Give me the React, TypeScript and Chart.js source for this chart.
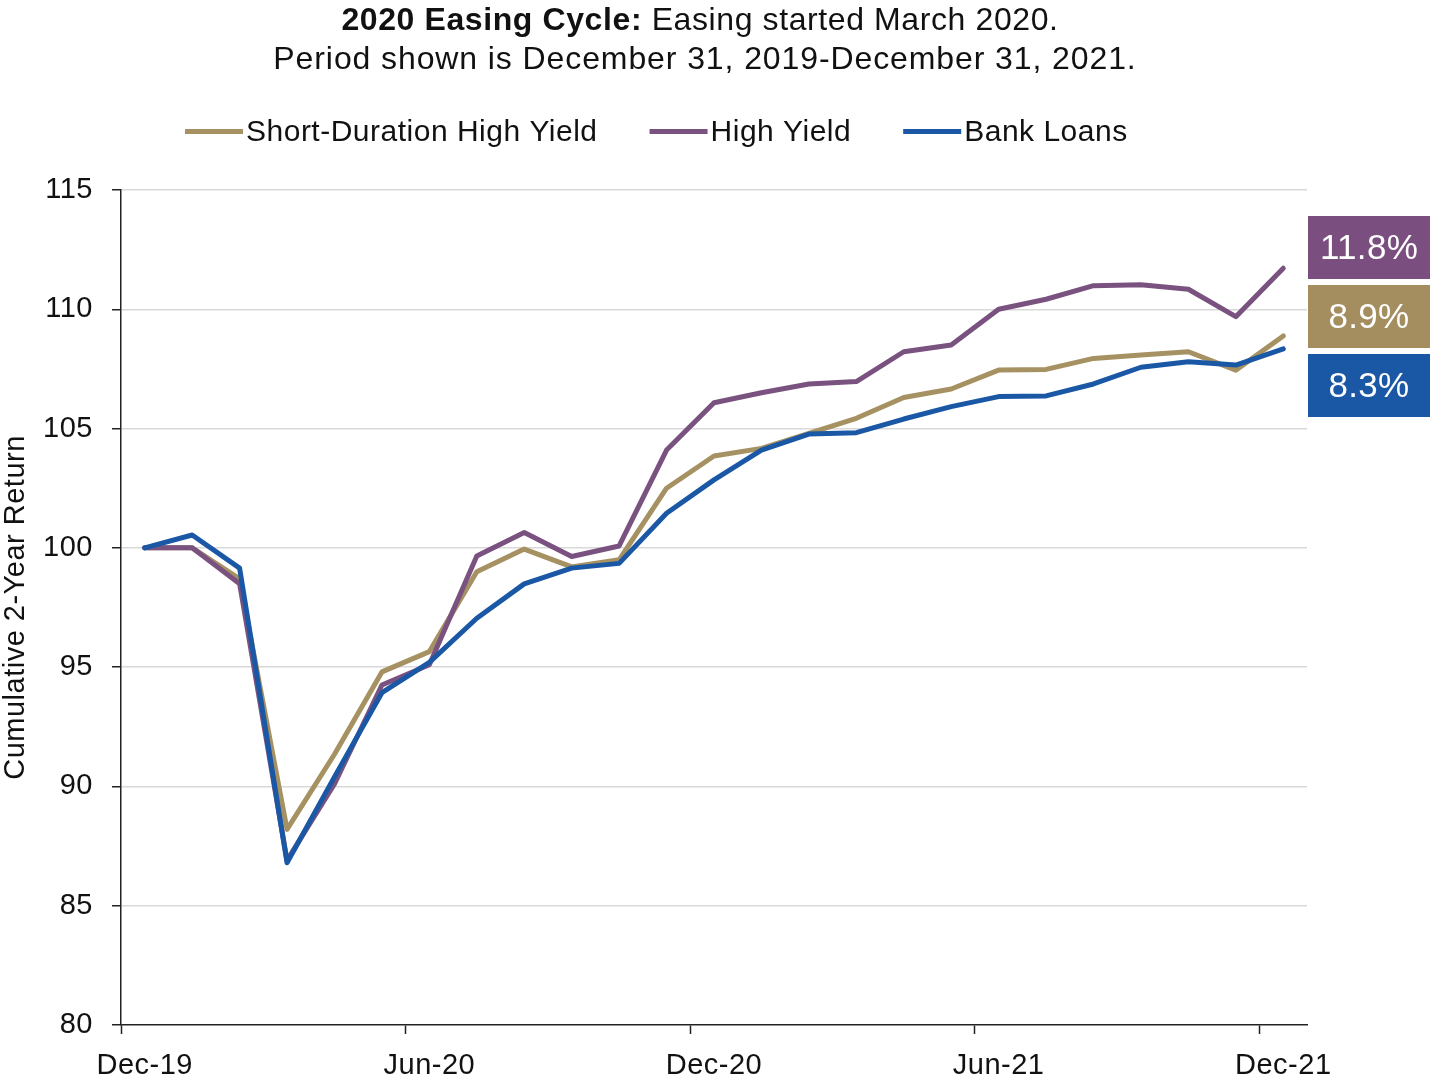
import React, { useEffect, useRef } from 'react';
import { Chart, registerables } from 'chart.js';

Chart.register(...registerables);

const categories = [
  'Dec-19', 'Jan-20', 'Feb-20', 'Mar-20', 'Apr-20', 'May-20', 'Jun-20', 'Jul-20', 'Aug-20',
  'Sep-20', 'Oct-20', 'Nov-20', 'Dec-20', 'Jan-21', 'Feb-21', 'Mar-21', 'Apr-21', 'May-21',
  'Jun-21', 'Jul-21', 'Aug-21', 'Sep-21', 'Oct-21', 'Nov-21', 'Dec-21',
];

const shortDurationHighYield = [
  100, 100, 98.7, 88.2, 91.35, 94.8, 95.65, 99.0, 99.95, 99.2, 99.5, 102.5, 103.85,
  104.17, 104.8, 105.43, 106.3, 106.66, 107.45, 107.48, 107.94, 108.08, 108.22, 107.45, 108.88,
];

const highYield = [
  100, 100, 98.5, 86.9, 90.1, 94.25, 95.1, 99.66, 100.64, 99.64, 100.08, 104.1, 106.08,
  106.5, 106.87, 106.97, 108.22, 108.5, 110.0, 110.42, 110.99, 111.03, 110.84, 109.69, 111.72,
];

const bankLoans = [
  100, 100.54, 99.15, 86.8, 90.4, 93.93, 95.2, 97.05, 98.49, 99.15, 99.35, 101.45, 102.85,
  104.1, 104.77, 104.83, 105.4, 105.92, 106.34, 106.37, 106.87, 107.57, 107.8, 107.66, 108.34,
];

const seriesNames = ['Short-Duration High Yield', 'High Yield', 'Bank Loans'];
const seriesColors = ['#A69162', '#7A5280', '#1A58A6'];

// end-of-period return boxes (top to bottom)
const endLabels = ['11.8%', '8.9%', '8.3%'];
const endLabelColors = ['#7A4F7F', '#A48E5F', '#1A57A4'];

const titleBold = '2020 Easing Cycle:';
const titleRest = ' Easing started March 2020.';
const titleLine2 = 'Period shown is December 31, 2019-December 31, 2021.';
const yAxisTitle = 'Cumulative 2-Year Return';

const yMin = 80;
const yMax = 115;
const yStep = 5;

const FONT = '"Liberation Sans", Arial, Helvetica, sans-serif';

function textWidth(ctx: CanvasRenderingContext2D, s: string, ls: number) {
  const c: any = ctx;
  const prev = c.letterSpacing;
  c.letterSpacing = '0px';
  const w = ctx.measureText(s).width;
  c.letterSpacing = prev;
  return w + ls * s.length;
}

const decorPlugin = {
  id: 'decor',
  beforeDraw(chart: any) {
    const ctx = chart.ctx;
    ctx.save();
    ctx.fillStyle = '#ffffff';
    ctx.fillRect(0, 0, chart.width, chart.height);
    ctx.restore();
    (ctx as any).letterSpacing = '0.5px';
  },
  afterDraw(chart: any) {
    const ctx: CanvasRenderingContext2D = chart.ctx;
    const c: any = ctx;
    const area = chart.chartArea;
    ctx.save();
    ctx.fillStyle = '#111111';
    ctx.textAlign = 'left';
    ctx.textBaseline = 'alphabetic';

    // Title line 1 (bold + regular)
    let ls = 0.6;
    c.letterSpacing = ls + 'px';
    ctx.font = `bold 32px ${FONT}`;
    const wb = textWidth(ctx, titleBold, ls);
    ctx.font = `32px ${FONT}`;
    const wr = textWidth(ctx, titleRest, ls);
    const x = 700 - (wb + wr) / 2;
    ctx.font = `bold 32px ${FONT}`;
    ctx.fillText(titleBold, x, 30);
    ctx.font = `32px ${FONT}`;
    ctx.fillText(titleRest, x + wb, 30);

    // Title line 2
    ls = 0.9;
    c.letterSpacing = ls + 'px';
    ctx.font = `32px ${FONT}`;
    const w2 = textWidth(ctx, titleLine2, ls);
    ctx.fillText(titleLine2, 705 - w2 / 2, 69);

    // Legend
    ls = 0.5;
    c.letterSpacing = ls + 'px';
    ctx.font = `30px ${FONT}`;
    let lx = 185;
    for (let i = 0; i < seriesNames.length; i++) {
      ctx.strokeStyle = seriesColors[i];
      ctx.lineWidth = 5;
      ctx.lineCap = 'butt';
      ctx.beginPath();
      ctx.moveTo(lx, 131.5);
      ctx.lineTo(lx + 58, 131.5);
      ctx.stroke();
      ctx.fillStyle = '#111111';
      ctx.fillText(seriesNames[i], lx + 61, 141);
      lx = lx + 61 + textWidth(ctx, seriesNames[i], ls) + 52;
    }

    // End-value boxes
    c.letterSpacing = '0.3px';
    ctx.font = `35px ${FONT}`;
    ctx.textAlign = 'center';
    ctx.textBaseline = 'middle';
    const bx = area.right + 1;
    const bw = chart.width - bx;
    const tops = [216, 285, 354];
    for (let i = 0; i < endLabels.length; i++) {
      ctx.fillStyle = endLabelColors[i];
      ctx.fillRect(bx, tops[i], bw, 63);
      ctx.fillStyle = '#ffffff';
      ctx.fillText(endLabels[i], bx + bw / 2, tops[i] + 33);
    }
    ctx.restore();
  },
};

export default function App() {
  const ref = useRef<HTMLCanvasElement>(null);

  useEffect(() => {
    if (!ref.current) return;
    Chart.defaults.font.family = FONT;
    const tickIdx = [0, 6, 12, 18, 24];
    const mk = (i: number, data: number[], order: number) => ({
      label: seriesNames[i],
      data,
      borderColor: seriesColors[i],
      backgroundColor: seriesColors[i],
      borderWidth: 5,
      pointRadius: 0,
      tension: 0,
      borderCapStyle: 'round',
      borderJoinStyle: 'round',
      order,
    });
    const chart = new Chart(ref.current, {
      type: 'line',
      data: {
        labels: categories,
        datasets: [
          mk(0, shortDurationHighYield, 3),
          mk(1, highYield, 2),
          mk(2, bankLoans, 1),
        ],
      },
      options: {
        responsive: false,
        devicePixelRatio: 1,
        animation: false,
        events: [],
        layout: { padding: { top: 190, right: 123, left: 0, bottom: 0 } },
        plugins: {
          legend: { display: false },
          title: { display: false },
          tooltip: { enabled: false },
        },
        scales: {
          x: {
            type: 'category',
            offset: true,
            grid: {
              offset: true,
              drawOnChartArea: false,
              drawTicks: true,
              tickLength: 9,
              tickWidth: 1.5,
              tickColor: (ctx: any) =>
                ctx.index !== undefined && tickIdx.includes(ctx.index) ? '#222222' : 'rgba(0,0,0,0)',
            },
            border: { display: true, color: '#222222', width: 1.5 },
            ticks: {
              autoSkip: false,
              maxRotation: 0,
              minRotation: 0,
              padding: 15,
              color: '#111111',
              font: { size: 29, family: FONT },
              callback: (_v: any, index: number) => (index % 6 === 0 ? categories[index] : ''),
            },
            afterFit: (scale: any) => {
              scale.height = 57;
            },
          },
          y: {
            min: yMin,
            max: yMax,
            grid: {
              color: (ctx: any) =>
                ctx.tick && ctx.tick.value === yMin ? 'rgba(0,0,0,0)' : '#d9d9d9',
              lineWidth: 1.5,
              drawTicks: true,
              tickLength: 9,
              tickWidth: 1.5,
              tickColor: '#222222',
            },
            border: { display: true, color: '#222222', width: 1.5 },
            ticks: {
              stepSize: yStep,
              padding: 19,
              color: '#111111',
              font: { size: 29, family: FONT },
            },
            title: {
              display: true,
              text: yAxisTitle,
              color: '#111111',
              font: { size: 29, family: FONT, lineHeight: 1 },
              padding: { top: 1, bottom: 0 },
            },
            afterFit: (scale: any) => {
              scale.width = 121;
            },
          },
        },
      },
      plugins: [decorPlugin],
    } as any);
    return () => chart.destroy();
  }, []);

  return (
    <div
      style={{
        position: 'fixed',
        left: 0,
        top: 0,
        width: 1430,
        height: 1082,
        background: '#ffffff',
      }}
    >
      <canvas
        ref={ref}
        width={1430}
        height={1082}
        style={{ display: 'block', width: 1430, height: 1082 }}
      />
    </div>
  );
}
